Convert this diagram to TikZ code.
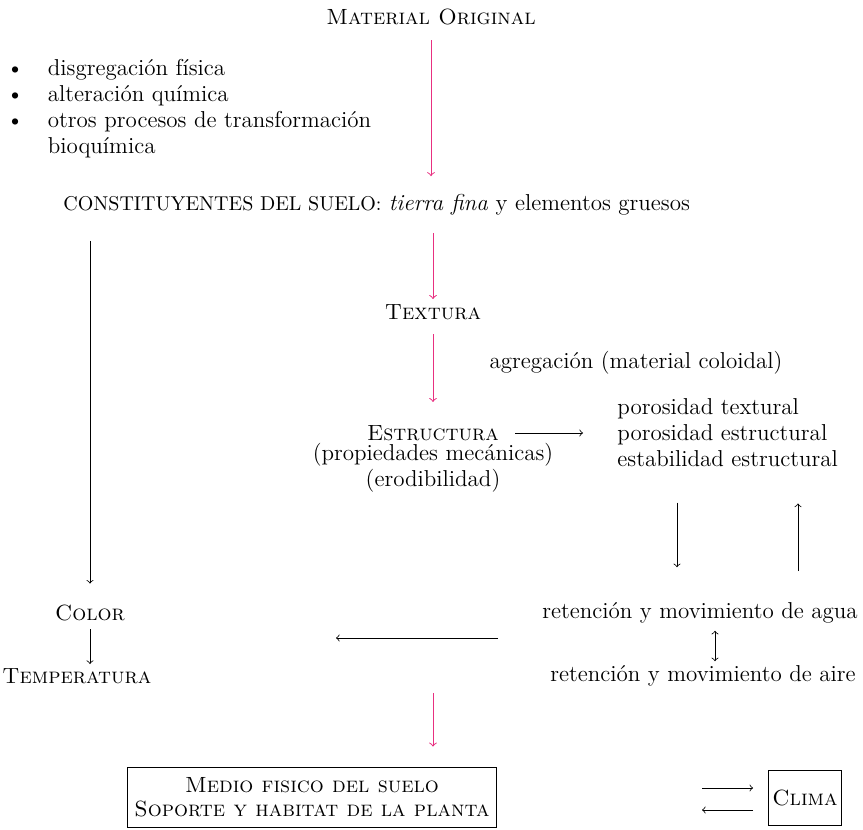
\documentclass[tikz,border=0pt]{standalone}
\usepackage{tikz}
\usetikzlibrary{positioning}
\usetikzlibrary{arrows}
\usetikzlibrary{calc}

\definecolor{rosa}{RGB}{232,48,128}

\tikzset{
  txt/.style={inner sep=1pt, font=\fontsize{11.5}{13}\selectfont},
  versal/.style={inner sep=1pt, font=\fontsize{11}{12}\selectfont},
  flecha/.style={->, >=to, thin, black},
  flecharosa/.style={->, >=to, line width=0.5pt, rosa},
  caja/.style={draw, thin, versal, align=center, inner sep=0pt}
}

\begin{document}
\begin{tikzpicture}[x=0.5pt,y=-0.5pt]
		\useasboundingbox (0,0) rectangle (863,830);

		% Define the nodes
		\node[versal] (mat) at (431,17) {\textsc{Material Original}};
		\node[txt, anchor=north west, inner sep=0pt] (lista) at (6,57)
		  {\begin{tabular}{@{}l@{\hspace{12pt}}l@{}}
		   \textbullet & disgregación física\\
		   \textbullet & alteración química\\
		   \textbullet & otros procesos de transformación\\
		               & bioquímica
		   \end{tabular}};
		\node[txt, anchor=west] (const) at (61,205)
		  {{\fontsize{10}{12}\selectfont CONSTITUYENTES DEL SUELO:} \textit{tierra fina} y elementos gruesos};
		\node[versal] (tex) at (433,312) {\textsc{Textura}};
		\node[txt] (agreg) at (636,363) {agregación (material coloidal)};
		\node[versal] (estr) at (433,433) {\textsc{Estructura}};
		\node[txt, align=center, below=-1pt of estr] (prop)
		  {(propiedades mecánicas)\\(erodibilidad)};
		\node[txt, anchor=west, align=left] (poros) at (615,433)
		  {porosidad textural\\porosidad estructural\\estabilidad estructural};
		\node[versal] (color) at (90,613) {\textsc{Color}};
		\node[versal, anchor=west] (temp) at (0,676) {\textsc{Temperatura}};
		\node[txt] (agua) at (700,613) {retención y movimiento de agua};
		\node[txt] (aire) at (703,676) {retención y movimiento de aire};
		\node[caja, minimum width=184.5pt, minimum height=30pt] (medio) at (312,797)
		  {\textsc{Medio fisico del suelo}\\\textsc{Soporte y habitat de la planta}};
		\node[caja, minimum width=36.5pt, minimum height=27.5pt] (clima) at (805,798)
		  {\textsc{Clima}};

		% Free ends
		\coordinate (ini) at (498,638);
		\coordinate (fin) at (336,638);
		\coordinate (izq) at (702,0);

		% Draw the pink arrows
		\draw[flecharosa, shorten <=6.5pt, shorten >=8pt] (mat.south) -- (mat.south |- const.north);
		\draw[flecharosa, shorten <=7.5pt, shorten >=1.5pt] (tex.north |- const.south) -- (tex.north);
		\draw[flecharosa, shorten <=6pt, shorten >=10.5pt] (tex.south) -- (estr.north);
		\draw[flecharosa, shorten <=2pt, shorten >=10pt] (tex.south |- aire.south) -- (tex.south |- medio.north);

		% Draw the black arrows
		\draw[flecha, shorten <=11.5pt, shorten >=9.5pt] (color.north |- const.south) -- (color.north);
		\draw[flecha, shorten <=3pt, shorten >=1pt] (color.south) -- (color.south |- temp.north);
		\draw[flecha, shorten <=7pt, shorten >=16pt] (estr.east) -- (poros.west |- estr.east);
		\draw[flecha, shorten <=16.5pt, shorten >=16.5pt] (poros.south -| 677,0) -- (agua.north -| 677,0);
		\draw[flecha, shorten <=14.5pt, shorten >=17pt] (agua.north -| 798,0) -- (poros.south -| 798,0);
		\draw[flecha, <->, shorten <=2.5pt, shorten >=1pt] (agua.south -| 715,0) -- (aire.north -| 715,0);
		\draw[flecha] (ini) -- (fin);
		\draw[flecha, shorten >=7.5pt] (izq |- 0,788) -- (clima.west |- 0,788);
		\draw[flecha, shorten <=7.5pt] (clima.west |- 0,810) -- (izq |- 0,810);
\end{tikzpicture}
\end{document}
